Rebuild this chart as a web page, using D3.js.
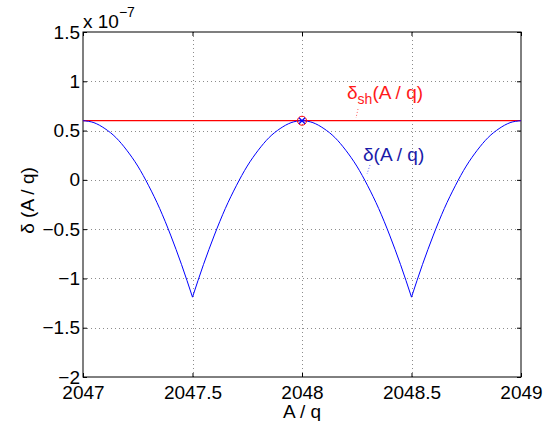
<!DOCTYPE html>
<html>
<head>
<meta charset="utf-8">
<script src="https://cdn.jsdelivr.net/npm/d3@7"></script>
<style>
  html, body { margin: 0; padding: 0; background: #fff; }
  svg { display: block; font-family: "Liberation Sans", Arial, Helvetica, sans-serif; }
</style>
</head>
<body>
<svg id="chart" width="549" height="421"></svg>
<script>
// values (y in units of 1e-7)
const xTicks = [2047, 2047.5, 2048, 2048.5, 2049];
const yTicks = [-2, -1.5, -1, -0.5, 0, 0.5, 1, 1.5];
const aqValues = [
  2047.00, 2047.05, 2047.10, 2047.15, 2047.20, 2047.25, 2047.30, 2047.35, 2047.40, 2047.45,
  2047.50, 2047.55, 2047.60, 2047.65, 2047.70, 2047.75, 2047.80, 2047.85, 2047.90, 2047.95,
  2048.00, 2048.05, 2048.10, 2048.15, 2048.20, 2048.25, 2048.30, 2048.35, 2048.40, 2048.45,
  2048.50, 2048.55, 2048.60, 2048.65, 2048.70, 2048.75, 2048.80, 2048.85, 2048.90, 2048.95,
  2049.00
];
const deltaValues = [
  0.60, 0.58, 0.52, 0.43, 0.30, 0.14, -0.06, -0.29, -0.56, -0.86,
  -1.19, -0.86, -0.56, -0.29, -0.06, 0.14, 0.30, 0.43, 0.52, 0.58,
  0.60, 0.58, 0.52, 0.43, 0.30, 0.14, -0.06, -0.29, -0.56, -0.86,
  -1.19, -0.86, -0.56, -0.29, -0.06, 0.14, 0.30, 0.43, 0.52, 0.58,
  0.60
];
const cuspValues = [2047.5, 2048.5];
const deltaShift = 0.60;
const markerPoint = [2048, 0.60];

const svg = d3.select('#chart');
const plotLeft = 83, plotRight = 521, plotTop = 32, plotBottom = 377;
const fontSize = 19;

const x = d3.scaleLinear().domain([2047, 2049]).range([plotLeft, plotRight]);
const y = d3.scaleLinear().domain([-2, 1.5]).range([plotBottom, plotTop]);

// grid
const grid = svg.append('g')
  .attr('stroke', '#8c8c8c')
  .attr('stroke-width', 1)
  .attr('stroke-dasharray', '1 3');
xTicks.slice(1, -1).forEach(t => {
  grid.append('line')
    .attr('x1', Math.round(x(t)) + 0.5).attr('x2', Math.round(x(t)) + 0.5)
    .attr('y1', plotTop).attr('y2', plotBottom);
});
yTicks.slice(1, -1).forEach(t => {
  grid.append('line')
    .attr('x1', plotLeft).attr('x2', plotRight)
    .attr('y1', Math.round(y(t)) + 0.5).attr('y2', Math.round(y(t)) + 0.5);
});

// axes (inward ticks)
const fmt = d => String(d).replace('-', '\u2212');
const xAxis = svg.append('g')
  .attr('transform', `translate(0,${plotBottom})`)
  .call(d3.axisBottom(x).tickValues(xTicks).tickSize(-4).tickPadding(8.5).tickFormat(fmt));
const yAxis = svg.append('g')
  .attr('transform', `translate(${plotLeft},0)`)
  .call(d3.axisLeft(y).tickValues(yTicks).tickSize(-4).tickPadding(3).tickFormat(fmt));
svg.append('g')
  .attr('transform', `translate(0,${plotTop})`)
  .call(d3.axisTop(x).tickValues(xTicks).tickSize(-4).tickFormat(''));
svg.append('g')
  .attr('transform', `translate(${plotRight},0)`)
  .call(d3.axisRight(y).tickValues(yTicks).tickSize(-4).tickFormat(''));

svg.selectAll('.domain').remove();
svg.selectAll('.tick line').attr('stroke', '#000');
[xAxis, yAxis].forEach(g => g.selectAll('text')
  .attr('fill', '#000')
  .style('font-size', fontSize + 'px')
  .style('font-family', '"Liberation Sans", Arial, sans-serif'));

// box
svg.append('rect')
  .attr('x', plotLeft).attr('y', plotTop)
  .attr('width', plotRight - plotLeft).attr('height', plotBottom - plotTop)
  .attr('fill', 'none')
  .attr('stroke', '#000')
  .attr('stroke-width', 1);

// exponent label
const expo = svg.append('text')
  .attr('x', plotLeft)
  .attr('y', 28)
  .attr('font-size', fontSize)
  .attr('fill', '#000');
expo.append('tspan').text('x 10');
expo.append('tspan').attr('font-size', 14).attr('dy', -11).text('\u22127');

// red shifted line
svg.append('line')
  .attr('x1', x(2047)).attr('x2', x(2049))
  .attr('y1', y(deltaShift)).attr('y2', y(deltaShift))
  .attr('stroke', '#ff0000')
  .attr('stroke-width', 1.2);

// blue curve, split at cusps
const pts = aqValues.map((a, i) => [a, deltaValues[i]]);
const bounds = [2047, ...cuspValues, 2049];
const line = d3.line()
  .x(d => x(d[0]))
  .y(d => y(d[1]))
  .curve(d3.curveMonotoneX);
for (let i = 0; i < bounds.length - 1; i++) {
  const seg = pts.filter(p => p[0] >= bounds[i] - 1e-9 && p[0] <= bounds[i + 1] + 1e-9);
  svg.append('path')
    .attr('d', line(seg))
    .attr('fill', 'none')
    .attr('stroke', '#0000ff')
    .attr('stroke-width', 1);
}

// marker: red circle with blue cross
const mx = x(markerPoint[0]), my = y(markerPoint[1]);
svg.append('circle')
  .attr('cx', mx).attr('cy', my).attr('r', 4.5)
  .attr('fill', 'none')
  .attr('stroke', '#ff0000')
  .attr('stroke-width', 1);
svg.append('path')
  .attr('d', `M${mx - 3},${my - 3}L${mx + 3},${my + 3}M${mx - 3},${my + 3}L${mx + 3},${my - 3}`)
  .attr('stroke', '#0000ff')
  .attr('stroke-width', 1.2);

// annotations with dotted leaders
svg.append('line')
  .attr('x1', 358).attr('y1', 109).attr('x2', 356).attr('y2', 118)
  .attr('stroke', '#ff6060').attr('stroke-dasharray', '1 2');
const shLabel = svg.append('text')
  .attr('x', 347).attr('y', 99)
  .attr('font-size', fontSize)
  .attr('fill', '#ff1a1a');
shLabel.append('tspan').text('\u03b4');
shLabel.append('tspan').attr('font-size', 14).attr('dy', 5).text('sh');
shLabel.append('tspan').attr('dy', -5).text('(A / q)');

svg.append('line')
  .attr('x1', 370).attr('y1', 165).attr('x2', 367).attr('y2', 174)
  .attr('stroke', '#6060ff').attr('stroke-dasharray', '1 2');
svg.append('text')
  .attr('x', 363).attr('y', 161)
  .attr('font-size', fontSize)
  .attr('fill', '#1a1aa8')
  .text('\u03b4(A / q)');

// axis titles
svg.append('text')
  .attr('x', (plotLeft + plotRight) / 2)
  .attr('y', 418)
  .attr('text-anchor', 'middle')
  .attr('font-size', fontSize)
  .attr('fill', '#000')
  .text('A / q');
svg.append('text')
  .attr('transform', `translate(34,${(plotTop + plotBottom) / 2 - 4}) rotate(-90)`)
  .attr('text-anchor', 'middle')
  .attr('font-size', fontSize)
  .attr('fill', '#000')
  .text('\u03b4 (A / q)');
</script>
</body>
</html>
